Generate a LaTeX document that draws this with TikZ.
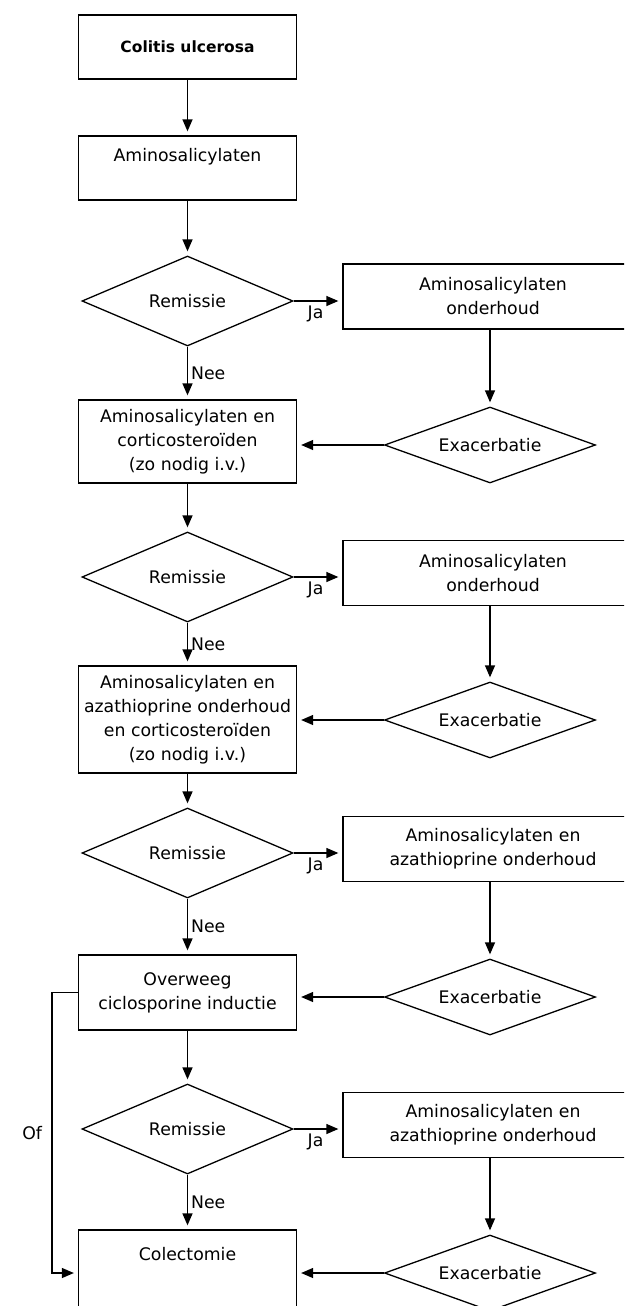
\documentclass[tikz,border=0pt]{standalone}
\usepackage{fontspec}
\setmainfont{DejaVu Sans}
\usetikzlibrary{shapes.geometric,arrows.meta}
\begin{document}
\begin{tikzpicture}[x=1pt,y=-1pt,
  every node/.style={font=\fontsize{17.3}{24}\selectfont},
  box/.style={draw, line width=1.3pt, rectangle, align=center, inner sep=0pt, minimum width=218pt},
  rbox/.style={draw, line width=1.3pt, rectangle, align=center, inner sep=0pt, minimum width=300pt, minimum height=65pt},
  rem/.style={draw, line width=1.3pt, diamond, inner sep=0pt, minimum width=211pt, minimum height=90pt, shape aspect=2.4},
  exa/.style={draw, line width=1.3pt, diamond, inner sep=0pt, minimum width=211pt, minimum height=76pt, shape aspect=2.8},
  arr/.style={line width=1.3pt, -{Triangle[length=12pt,width=10pt]}, shorten >=4pt},
  lbl/.style={inner sep=2pt}]
\clip (0,0) rectangle (624,1306);
\fill[white] (0,0) rectangle (624,1306);

\node[box, font=\bfseries\fontsize{15.5}{20}\selectfont, minimum height=64pt] (c0) at (187.5,47) {Colitis ulcerosa};
\node[box, minimum height=64pt] (b1) at (187.5,168) {Aminosalicylaten\\[2pt]\mbox{}};

\node[rem] (d1) at (187.5,301) {Remissie};
\node[rbox] (r1) at (493,296.5) {Aminosalicylaten\\onderhoud};
\node[exa] (e1) at (490,445) {Exacerbatie};
\node[box, minimum height=83pt] (b2) at (187.5,441.5) {Aminosalicylaten en\\corticosteroïden\\(zo nodig i.v.)};

\node[rem] (d2) at (187.5,577) {Remissie};
\node[rbox] (r2) at (493,573) {Aminosalicylaten\\onderhoud};
\node[exa] (e2) at (490,720) {Exacerbatie};
\node[box, minimum height=107pt] (b3) at (187.5,719.5) {Aminosalicylaten en\\azathioprine onderhoud\\en corticosteroïden\\(zo nodig i.v.)};

\node[rem] (d3) at (187.5,853) {Remissie};
\node[rbox] (r3) at (493,849) {Aminosalicylaten en\\azathioprine onderhoud};
\node[exa] (e3) at (490,997) {Exacerbatie};
\node[box, minimum height=75pt] (b4) at (187.5,992.5) {Overweeg\\ciclosporine inductie};

\node[rem] (d4) at (187.5,1129) {Remissie};
\node[rbox] (r4) at (493,1125) {Aminosalicylaten en\\azathioprine onderhoud};
\node[exa] (e4) at (490,1273) {Exacerbatie};
\node[box, minimum height=86pt] (b5) at (187.5,1273) {Colectomie\\[14pt]\mbox{}};

\coordinate (ofc) at (52,0);

\draw[arr] (c0.south) -- (b1.north);
\draw[arr] (b1.south) -- (d1.north);

\draw[arr] (d1.east) -- node[lbl, below, pos=0.45, yshift=-2pt]{Ja} (d1.east -| r1.west);
\draw[arr] (d1.south) -- node[lbl, right, xshift=1pt]{Nee} (b2.north);
\draw[arr] (e1.north |- r1.south) -- (e1.north);
\draw[arr] (e1.west) -- (e1.west -| b2.east);
\draw[arr] (b2.south) -- (d2.north);

\draw[arr] (d2.east) -- node[lbl, below, pos=0.45, yshift=-2pt]{Ja} (d2.east -| r2.west);
\draw[arr] (d2.south) -- node[lbl, right, xshift=1pt]{Nee} (b3.north);
\draw[arr] (e2.north |- r2.south) -- (e2.north);
\draw[arr] (e2.west) -- (e2.west -| b3.east);
\draw[arr] (b3.south) -- (d3.north);

\draw[arr] (d3.east) -- node[lbl, below, pos=0.45, yshift=-2pt]{Ja} (d3.east -| r3.west);
\draw[arr] (d3.south) -- node[lbl, right, xshift=1pt]{Nee} (b4.north);
\draw[arr] (e3.north |- r3.south) -- (e3.north);
\draw[arr] (e3.west) -- (e3.west -| b4.east);
\draw[arr] (b4.south) -- (d4.north);

\draw[arr] (d4.east) -- node[lbl, below, pos=0.45, yshift=-2pt]{Ja} (d4.east -| r4.west);
\draw[arr] (d4.south) -- node[lbl, right, xshift=1pt]{Nee} (b5.north);
\draw[arr] (e4.north |- r4.south) -- (e4.north);
\draw[arr] (e4.west) -- (e4.west -| b5.east);

\draw[arr] (b4.west) -- (b4.west -| ofc) -- node[left, xshift=-6pt]{Of} (b5.west -| ofc) -- (b5.west);
\end{tikzpicture}
\end{document}
